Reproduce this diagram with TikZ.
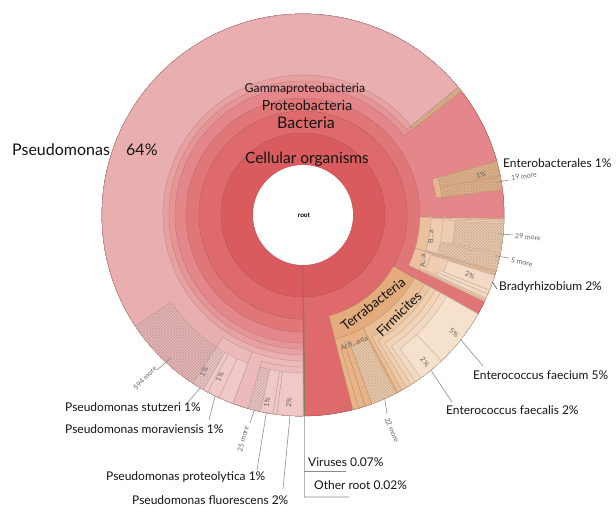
\documentclass[tikz,border=0pt]{standalone}
\usepackage{fontspec}
\setmainfont{Lato}
\usetikzlibrary{patterns,positioning}

% colours of the rings
\definecolor{cell}{HTML}{D95B5D}
\definecolor{bact}{HTML}{DE6A6C}
\definecolor{prot}{HTML}{E17678}
\definecolor{gamm}{HTML}{E5878A}
\definecolor{pord}{HTML}{E69597}
\definecolor{pfam}{HTML}{E8A0A1}
\definecolor{pgen}{HTML}{E9AEAF}
\definecolor{pgrp}{HTML}{ECBABA}
\definecolor{pspe}{HTML}{F0C8C8}
\definecolor{terr}{HTML}{E4AC7C}
\definecolor{firm}{HTML}{EABD94}
\definecolor{bacA}{HTML}{EEC8A4}
\definecolor{bacB}{HTML}{F0CEAE}
\definecolor{bacC}{HTML}{F2D4B8}
\definecolor{bacD}{HTML}{F3D9C1}
\definecolor{bacE}{HTML}{F6E1CD}
\definecolor{acti}{HTML}{E8B487}
\definecolor{alph}{HTML}{EBC09E}
\definecolor{alpB}{HTML}{F0CDB1}
\definecolor{alpC}{HTML}{F4DAC4}
\definecolor{ente}{HTML}{E6B790}
\definecolor{virus}{HTML}{7D7F5E}
\definecolor{leadgray}{HTML}{8C8C8C}

% annular sector: start angle, end angle, inner radius, outer radius, style
\newcommand{\kronaseg}[5]{%
  \path[#5] (#1:#3) arc[start angle=#1,end angle=#2,radius=#3]
    -- (#2:#4) arc[start angle=#2,end angle=#1,radius=#4] -- cycle;}

\tikzset{
  seg/.style={fill=#1, draw=#1!78!black, line width=0.35pt},
  hatch/.style={seg=#1, postaction={pattern=crosshatch, pattern color=#1!86!black}},
  taxon/.style={font=\fontsize{#1}{#1}\selectfont, inner sep=0pt, text=black!92},
  wedgetext/.style={font=\fontsize{7}{7}\selectfont, inner sep=0pt, text=black!62},
  lead/.style={draw=leadgray, line width=0.6pt},
}

\begin{document}
\begin{tikzpicture}[x=1pt, y=1pt]
  \useasboundingbox (-303,-291) rectangle (313,215);

  % radii
  \def\R{201}
  \def\rA{50}  \def\rB{82}  \def\rC{104} \def\rD{117}
  \def\rE{128} \def\rF{134} \def\rG{140} \def\rH{146}
  \def\rI{152} \def\rJ{158} \def\rK{165}

  % Cellular organisms, Bacteria, Proteobacteria, Gammaproteobacteria
  \kronaseg{-89.6}{270}{\rA}{\R}{seg=cell}
  \kronaseg{-89.6}{270}{\rB}{\R}{seg=bact}
  \kronaseg{-29.5}{270}{\rC}{\R}{seg=prot}
  \kronaseg{-1}{270}{\rD}{\R}{seg=gamm}

  % Pseudomonadales down to Pseudomonas
  \kronaseg{38}{270}{\rE}{\R}{seg=pord}
  \kronaseg{39.5}{270}{\rF}{\R}{seg=pfam}
  \kronaseg{38}{39.5}{\rG}{\R}{hatch=ente}
  \kronaseg{39.5}{270}{\rG}{\R}{seg=pgen}

  % Pseudomonas species
  \kronaseg{249.6}{270}{\rH}{\R}{seg=pgrp}
  \kronaseg{236.7}{249.6}{\rH}{\R}{seg=pgrp}
  \kronaseg{254.2}{270}{\rI}{\R}{seg=pgrp}
  \kronaseg{262.5}{270}{\rJ}{\R}{seg=pspe}
  \kronaseg{261.4}{262.5}{\rJ}{\R}{seg=pspe}
  \kronaseg{257.8}{261.4}{\rJ}{\R}{seg=pspe}
  \kronaseg{254.2}{257.8}{\rJ}{\R}{hatch=pspe}
  \kronaseg{245.3}{249.6}{\rJ}{\R}{seg=pspe}
  \kronaseg{241.7}{245.3}{\rJ}{\R}{seg=pspe}
  \kronaseg{240.3}{241.7}{\rJ}{\R}{seg=pspe}
  \kronaseg{236.7}{240.3}{\rJ}{\R}{hatch=pspe}
  \kronaseg{213.5}{236.7}{\rJ}{\R}{hatch=pgrp}

  % Enterobacterales
  \kronaseg{7.3}{15.5}{\rF}{\R}{seg=ente}
  \kronaseg{11.3}{15.5}{\rG}{\R}{hatch=ente}
  \kronaseg{7.3}{11.3}{\rG}{\R}{hatch=ente}

  % B...a and A...a
  \kronaseg{-16.5}{-1}{\rD}{\R}{seg=alph}
  \kronaseg{-25.5}{-16.5}{\rD}{\R}{seg=alph}
  \kronaseg{-16}{-1.5}{\rE}{\R}{seg=alpB}
  \kronaseg{-11}{-2}{\rG}{\R}{seg=alpB}
  \kronaseg{-11}{-2.5}{\rI}{\R}{hatch=alpB}
  \kronaseg{-16}{-11.5}{\rG}{\R}{hatch=alpB}
  \kronaseg{-25}{-17}{\rE}{\R}{seg=alpB}
  \kronaseg{-24.4}{-17.3}{\rF}{\R}{seg=alpB}
  \kronaseg{-22}{-17.5}{\rI}{\R}{seg=alpC}
  \kronaseg{-23.2}{-22}{\rH}{\R}{seg=alpC}
  \kronaseg{-24.4}{-23.2}{\rH}{\R}{seg=alpC}

  % Terrabacteria, Firmicutes, Enterococcus
  \kronaseg{-75.6}{-29.5}{\rC}{\R}{seg=terr}
  \kronaseg{-62}{-29.5}{\rE}{\R}{seg=firm}
  \kronaseg{-60.5}{-29.5}{\rG}{\R}{seg=bacA}
  \kronaseg{-59}{-29.5}{\rH}{\R}{seg=bacB}
  \kronaseg{-57.5}{-29.5}{\rI}{\R}{seg=bacC}
  \kronaseg{-56}{-29.5}{\rJ}{\R}{seg=bacD}
  \kronaseg{-46.5}{-29.5}{\rK}{\R}{seg=bacE}
  \kronaseg{-54}{-46.5}{\rK}{\R}{seg=bacE}
  \kronaseg{-75.6}{-62}{\rE}{\R}{seg=acti}
  \kronaseg{-70}{-62.5}{\rG}{\R}{hatch=bacB}
  \kronaseg{-72}{-70}{\rF}{\R}{seg=acti}
  \kronaseg{-74}{-72}{\rG}{\R}{seg=acti}

  % hole and the thin Viruses / Other root wedge
  \fill[white] (0,0) circle[radius=\rA];
  \coordinate (virin) at (270.4:\rA);
  \coordinate (vir) at (270.4:\R);
  \draw[virus, line width=1.1pt] (virin) -- (vir);

  % ring labels
  \node[font=\bfseries\fontsize{6.5}{7}\selectfont, inner sep=0pt] (root) at (1,0) {root};
  \node[taxon=15.5] (cellular) at (4,56) {Cellular organisms};
  \node[taxon=16] (bacteria) at (3,92) {Bacteria};
  \node[taxon=14] (proteo) at (4,110) {Proteobacteria};
  \node[taxon=12.3] (gamma) at (2,126) {Gammaproteobacteria};
  \node[taxon=13.5, rotate=38] (terra) at (70,-89) {Terrabacteria};
  \node[taxon=13.5, rotate=45] (firmi) at (96,-99) {Firmicites};
  \node[wedgetext, rotate=21] (acti) at (51,-128) {Acti...eria};
  \node[wedgetext, rotate=90] (beta) at (128,-22) {B...a};
  \node[wedgetext, rotate=90] (alpha) at (120,-46) {A...a};

  % percentages inside the wedges
  \node[wedgetext, rotate=13] (entpct) at (178,40) {1\%};
  \node[wedgetext, rotate=-20] (bradpct) at (167,-60) {2\%};
  \node[wedgetext, rotate=-38] (fciumpct) at (151,-118) {5\%};
  \node[wedgetext, rotate=-50] (fcalispct) at (122,-147) {2\%};
  \node[wedgetext, rotate=58] (stutzpct) at (-99,-157) {1\%};
  \node[wedgetext, rotate=62] (moravpct) at (-83,-162) {1\%};
  \node[wedgetext, rotate=80] (prtlypct) at (-36,-187) {1\%};
  \node[wedgetext, rotate=86] (fluorpct) at (-14,-188) {2\%};

  % grouped wedges
  \node[wedgetext, rotate=8, anchor=west] (more19) at (208,37) {19 more};
  \node[wedgetext, rotate=-5, anchor=west] (more29) at (212,-21) {29 more};
  \node[wedgetext, rotate=-12, anchor=west] (more5) at (208,-45) {5 more};
  \node[wedgetext, rotate=-67] (more22) at (89,-215) {22 more};
  \node[wedgetext, rotate=46] (more594) at (-158,-163) {594 more};
  \node[wedgetext, rotate=75] (more25) at (-60,-224) {25 more};

  % outer labels
  \node[taxon=16, anchor=west] (pseudo) at (-291,65) {Pseudomonas};
  \node[taxon=16, anchor=west] (pseudopct) at (-177,65) {64\%};
  \node[taxon=12, anchor=west] (entero) at (200,52) {Enterobacterales 1\%};
  \node[taxon=12, anchor=west] (brady) at (196,-72) {Bradyrhizobium 2\%};
  \node[taxon=12, anchor=west] (faecium) at (170,-160) {Enterococcus faecium 5\%};
  \node[taxon=12, anchor=west] (faecalis) at (143,-195) {Enterococcus faecalis 2\%};
  \node[taxon=12, anchor=west] (stutzeri) at (-238,-192) {Pseudomonas stutzeri 1\%};
  \node[taxon=12, anchor=west] (moravi) at (-238,-214) {Pseudomonas moraviensis 1\%};
  \node[taxon=12, anchor=west] (proteoly) at (-197,-262) {Pseudomonas proteolytica 1\%};
  \node[taxon=12, anchor=west] (fluores) at (-171,-285) {Pseudomonas fluorescens 2\%};
  \node[taxon=12, anchor=west] (viruses) at (5,-247) {Viruses 0.07\%};
  \node[taxon=12, anchor=west] (other) at (11,-270) {Other root 0.02\%};

  % leader lines
  \coordinate (stutz) at (239.3:\R);   \coordinate (stutzend) at (-115,-187);
  \coordinate (morav) at (244.1:\R);   \coordinate (moravend) at (-94,-205);
  \coordinate (prtly) at (259.5:\R);   \coordinate (prtlyend) at (-46,-255);
  \coordinate (fluor) at (266.3:\R);   \coordinate (fluorend) at (-20,-274);
  \coordinate (fcium) at (-38.3:\R);   \coordinate (fciumend) at (180,-151);
  \coordinate (fcalis) at (-50.5:\R);  \coordinate (fcalisend) at (149,-187);
  \coordinate (m594) at (227.3:194);   \coordinate (m594end) at (-146,-155);
  \coordinate (m25) at (256:\R);       \coordinate (m25end) at (-53,-208);
  \coordinate (m22) at (-66:\R);       \coordinate (m22end) at (84,-199);
  \coordinate (m19) at (9.6:196);      \coordinate (m19end) at (206,35);
  \coordinate (m29) at (-5.5:196);     \coordinate (m29end) at (210,-20);
  \coordinate (m5) at (-12:196);       \coordinate (m5end) at (206,-43);
  \coordinate (brad) at (-19.5:\R);    \coordinate (bradend) at (194,-74);
  \coordinate (virend) at (1.4,-282);  \coordinate (virtick) at (1.4,-256);

  \draw[lead] (stutz) -- (stutzend);
  \draw[lead] (morav) -- (moravend);
  \draw[lead] (prtly) -- (prtlyend);
  \draw[lead] (fluor) -- (fluorend);
  \draw[lead] (fcium) -- (fciumend);
  \draw[lead] (fcalis) -- (fcalisend);
  \draw[lead] (m594) -- (m594end);
  \draw[lead] (m25) -- (m25end);
  \draw[lead] (m22) -- (m22end);
  \draw[lead] (m19) -- (m19end);
  \draw[lead] (m29) -- (m29end);
  \draw[lead] (m5) -- (m5end);
  \draw[lead, draw=black!70] (brad) -- (bradend);
  \draw[lead] (vir) -- (virend) -- ++(45,0);
  \draw[lead] (virtick) -- ++(42,0);
\end{tikzpicture}
\end{document}
